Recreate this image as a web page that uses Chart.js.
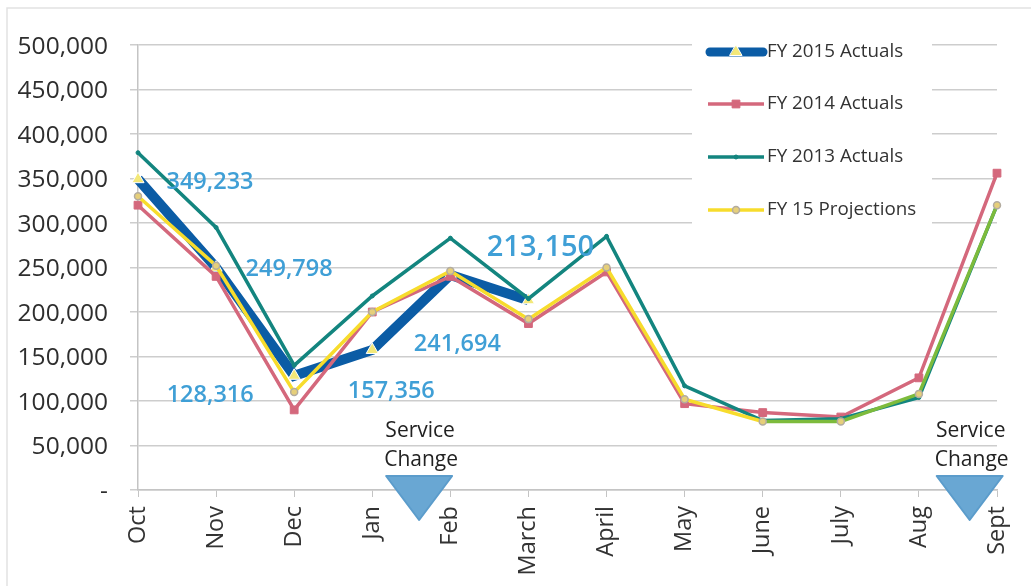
<!DOCTYPE html>
<html>
<head>
<meta charset="utf-8">
<title>Actuals vs projections</title>
<style>
html, body { margin: 0; padding: 0; background: #fff; }
canvas { display: block; filter: blur(0.4px); }
</style>
<script src="https://cdn.jsdelivr.net/npm/chart.js@4"></script>
</head>
<body>
<canvas id="ridership-graphic" width="1031" height="586"></canvas>
<script>
var months = ['Oct', 'Nov', 'Dec', 'Jan', 'Feb', 'March', 'April', 'May', 'June', 'July', 'Aug', 'Sept'];
var yTicks = [0, 50000, 100000, 150000, 200000, 250000, 300000, 350000, 400000, 450000, 500000];
var yTickLabels = ['-', '50,000', '100,000', '150,000', '200,000', '250,000', '300,000', '350,000', '400,000', '450,000', '500,000'];

var fy2015 = [349233, 249798, 128316, 157356, 241694, 213150, null, null, null, null, null, null];
var fy2014 = [320000, 240000, 90000, 200000, 240000, 187000, 245000, 97000, 87000, 82000, 126000, 356000];
var fy2013 = [379000, 295000, 140000, 218000, 283000, 215000, 285000, 117000, 78000, 80000, 104000, 320000];
var fy15Projections = [330000, 252000, 110000, 200000, 246000, 192000, 250000, 102000, 77000, 77000, 108000, 320000];

var seriesNames = ['FY 2015 Actuals', 'FY 2014 Actuals', 'FY 2013 Actuals', 'FY 15 Projections'];
var calloutTexts = ['349,233', '249,798', '128,316', '157,356', '241,694', '213,150'];
var serviceChangeLines = ['Service', 'Change'];

var FONT = '"Open Sans", "Noto Sans", sans-serif';
var BLUE = '#0b5ca5', PINK = '#d4687c', TEAL = '#13857f', GOLD = '#f7dc2c';

// where each callout sits relative to its point
var calloutOffsets = [[72, 3, 23.5], [73, 2, 23.5], [-84, 20, 23.5], [19, 41, 23.5], [7, 69, 23.5], [12, -53, 29]];

var extras = {
    id: 'extras',
    // gridlines stop behind the legend block, so blank it before the lines go on
    beforeDatasetsDraw: function (chart) {
        var c = chart.ctx;
        c.save();
        c.fillStyle = '#fff';
        c.fillRect(692, 30, 240, 205);
        c.restore();
    },
    afterDraw: function (chart) {
        var c = chart.ctx, x = chart.scales.x, y = chart.scales.y;
        c.save();

        // scan edge
        c.strokeStyle = '#e2e2e2';
        c.lineWidth = 1.5;
        c.beginPath();
        c.moveTo(7, 586);
        c.lineTo(7, 8);
        c.lineTo(1031, 8);
        c.stroke();

        // callouts
        c.textAlign = 'center';
        c.textBaseline = 'middle';
        c.fillStyle = '#3f9fd6';
        calloutTexts.forEach(function (t, i) {
            var o = calloutOffsets[i];
            c.font = '600 ' + o[2] + 'px ' + FONT;
            c.fillText(t, x.getPixelForValue(i) + o[0], y.getPixelForValue(fy2015[i]) + o[1]);
        });

        // service change markers
        [3.6, 10.65].forEach(function (pos) {
            var px = x.getPixelForValue(pos);
            c.fillStyle = '#222';
            c.font = '21px ' + FONT;
            c.fillText(serviceChangeLines[0], px + 1, 431);
            c.fillText(serviceChangeLines[1], px + 2, 460);
            c.fillStyle = '#69a7d3';
            c.strokeStyle = '#5b9ccb';
            c.lineWidth = 2;
            c.lineJoin = 'round';
            c.beginPath();
            c.moveTo(px - 33, 476);
            c.lineTo(px + 33, 476);
            c.lineTo(px, 520);
            c.closePath();
            c.fill();
            c.stroke();
        });

        // legend
        var rows = [52, 104, 157, 210];
        chart.data.datasets.forEach(function (ds, i) {
            var ly = rows[i];
            c.strokeStyle = ds.borderColor;
            c.lineWidth = i === 0 ? 9 : 3.5;
            c.lineCap = i === 0 ? 'round' : 'butt';
            c.beginPath();
            c.moveTo(i === 0 ? 710 : 708, ly);
            c.lineTo(i === 0 ? 763 : 764, ly);
            c.stroke();
            c.fillStyle = ds.pointBackgroundColor;
            c.strokeStyle = ds.pointBorderColor;
            c.lineWidth = ds.pointBorderWidth;
            Chart.helpers.drawPoint(c, {
                pointStyle: ds.pointStyle,
                radius: ds.pointRadius,
                borderWidth: ds.pointBorderWidth
            }, 736, ly);
            c.fillStyle = '#333';
            c.font = '18.8px ' + FONT;
            c.textAlign = 'left';
            c.fillText(seriesNames[i], 767, ly);
        });
        c.restore();
    }
};

var ctx = document.getElementById('ridership-graphic').getContext('2d');

var myLineChart = new Chart(ctx, {
    type: 'line',
    data: {
        labels: months,
        datasets: [{
            label: seriesNames[0],
            data: fy2015,
            borderColor: BLUE,
            borderWidth: 10,
            pointStyle: 'triangle',
            pointRadius: 7,
            pointBackgroundColor: '#f3e878',
            pointBorderColor: '#fff',
            pointBorderWidth: 1,
            order: 4
        }, {
            label: seriesNames[1],
            data: fy2014,
            borderColor: PINK,
            borderWidth: 3.5,
            pointStyle: 'rect',
            pointRadius: 5.5,
            pointBackgroundColor: PINK,
            pointBorderColor: PINK,
            pointBorderWidth: 1,
            order: 3
        }, {
            label: seriesNames[2],
            data: fy2013,
            borderColor: TEAL,
            borderWidth: 3.5,
            pointStyle: 'circle',
            pointRadius: 2,
            pointBackgroundColor: TEAL,
            pointBorderColor: TEAL,
            pointBorderWidth: 1,
            order: 2
        }, {
            label: seriesNames[3],
            data: fy15Projections,
            borderColor: GOLD,
            borderWidth: 3.5,
            pointStyle: 'circle',
            pointRadius: 3.5,
            pointBackgroundColor: '#e6cf7a',
            pointBorderColor: '#b3aca0',
            pointBorderWidth: 1.5,
            order: 1,
            segment: {
                // yellow over teal reads green once the two lines coincide
                borderColor: function (seg) { return seg.p0DataIndex >= 8 ? '#7dbb3c' : undefined; }
            }
        }]
    },
    options: {
        responsive: false,
        animation: false,
        layout: { padding: { top: 45, right: 34, left: 0, bottom: 0 } },
        plugins: { legend: { display: false }, tooltip: { enabled: false } },
        elements: { line: { tension: 0 } },
        scales: {
            x: {
                offset: false,
                afterFit: function (axis) {
                    axis.height = 96;
                    // stop the rotated last label from pushing the plot edge in
                    axis.paddingLeft = 0;
                    axis.paddingRight = 0;
                },
                grid: { drawOnChartArea: false, drawTicks: true, tickLength: 7, color: '#c4c4c4' },
                border: { color: '#c4c4c4', width: 1.5 },
                ticks: {
                    minRotation: 90, maxRotation: 90, padding: 9, autoSkip: false,
                    color: '#333', font: { family: FONT, size: 23.5 }
                }
            },
            y: {
                min: 0,
                max: 500000,
                afterFit: function (axis) { axis.width = 138; },
                afterBuildTicks: function (axis) {
                    axis.ticks = yTicks.map(function (v) { return { value: v }; });
                },
                grid: { color: '#cdcdcd', lineWidth: 1.5, drawTicks: true, tickLength: 8 },
                border: { color: '#c4c4c4', width: 1.5 },
                ticks: {
                    padding: 22,
                    labelOffset: 2,
                    color: '#2e2e2e',
                    font: { family: FONT, size: 24.5 },
                    callback: function (v) { return yTickLabels[yTicks.indexOf(v)]; }
                }
            }
        }
    },
    plugins: [extras]
});
</script>
</body>
</html>
